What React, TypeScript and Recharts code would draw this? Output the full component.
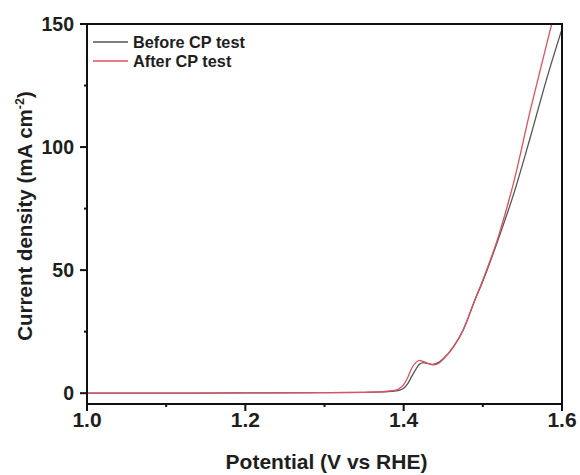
import React from 'react';
import { LineChart, Line, XAxis, YAxis, Legend } from 'recharts';

const beforePotential = [1.0, 1.1, 1.2, 1.3, 1.36, 1.38, 1.39, 1.395, 1.4, 1.405, 1.41, 1.415, 1.42, 1.425, 1.43, 1.437, 1.443, 1.45, 1.463, 1.475, 1.49, 1.5, 1.52, 1.54, 1.56, 1.58, 1.6];
const beforeCurrent = [0, 0, 0.1, 0.2, 0.4, 0.6, 0.9, 1.2, 2.0, 3.8, 6.7, 9.5, 11.8, 12.4, 12.1, 11.7, 12.3, 14.0, 18.9, 25.5, 37.9, 45.5, 63, 82, 104, 127, 148];

const afterPotential = [1.0, 1.1, 1.2, 1.3, 1.36, 1.38, 1.39, 1.395, 1.4, 1.406, 1.41, 1.415, 1.42, 1.425, 1.432, 1.438, 1.445, 1.45, 1.463, 1.475, 1.49, 1.5, 1.52, 1.54, 1.56, 1.58, 1.587];
const afterCurrent = [0, 0, 0.1, 0.2, 0.4, 0.8, 1.2, 2.0, 3.5, 7.0, 10.0, 12.3, 13.3, 12.8, 12.0, 11.5, 12.3, 13.8, 18.9, 25.7, 37.9, 46, 64, 87, 115, 141, 150];

const xTicks = [1.0, 1.1, 1.2, 1.3, 1.4, 1.5, 1.6];
const xMajor = [1.0, 1.2, 1.4, 1.6];
const yTicks = [0, 25, 50, 75, 100, 125, 150];
const yMajor = [0, 50, 100, 150];
const xDomain = [1.0, 1.6];
const yDomain = [-4.4, 150];

const seriesNames = ['Before CP test', 'After CP test'];
const seriesColors = ['#555555', '#e2505c'];

const beforeData = beforePotential.map((p, i) => ({ p, j: beforeCurrent[i] }));
const afterData = afterPotential.map((p, i) => ({ p, j: afterCurrent[i] }));

const CHART_W = 580;
const CHART_H = 475;
const MARGIN = { top: 24, right: 18, bottom: 11, left: 27 };
const Y_AXIS_W = 60;
const X_AXIS_H = 60;
const PLOT = {
  left: MARGIN.left + Y_AXIS_W,
  top: MARGIN.top,
  right: CHART_W - MARGIN.right,
  bottom: CHART_H - MARGIN.bottom - X_AXIS_H,
};

const FONT = '"Liberation Sans", Arial, sans-serif';
const TEXT = '#1e1e1e';
const AXIS = '#111';

const XTick = (props: any) => {
  const { x, y, payload } = props;
  const v = payload.value;
  const major = xMajor.some((m) => Math.abs(m - v) < 1e-6);
  return (
    <g>
      <line x1={x} x2={x} y1={y} y2={y + (major ? 7 : 3)} stroke={AXIS} strokeWidth={2} />
      {major && (
        <text x={x} y={y + 23} textAnchor="middle" fontFamily={FONT} fontWeight="bold" fontSize={21} fill={TEXT}>
          {v.toFixed(1)}
        </text>
      )}
    </g>
  );
};

const YTick = (props: any) => {
  const { x, y, payload } = props;
  const v = payload.value;
  const major = yMajor.includes(v);
  return (
    <g>
      <line x1={x} x2={x - (major ? 7 : 3)} y1={y} y2={y} stroke={AXIS} strokeWidth={2} />
      {major && (
        <text x={x - 13} y={y + 7} textAnchor="end" fontFamily={FONT} fontWeight="bold" fontSize={19.5} fill={TEXT}>
          {v}
        </text>
      )}
    </g>
  );
};

// Legend overlay spans the whole chart so that it can also close the plot frame (top and right edges).
const renderLegend = () => (
  <svg width={CHART_W} height={CHART_H} style={{ display: 'block' }}>
    <polyline
      points={`${PLOT.left - 1},${PLOT.top} ${PLOT.right},${PLOT.top} ${PLOT.right},${PLOT.bottom + 1}`}
      fill="none"
      stroke={AXIS}
      strokeWidth={2}
    />
    {seriesNames.map((n, i) => (
      <g key={n}>
        <line x1={93} x2={128} y1={42 + i * 19} y2={42 + i * 19} stroke={seriesColors[i]} strokeWidth={1.5} />
        <text x={133} y={48 + i * 19} fontFamily={FONT} fontWeight="bold" fontSize={16.3} fill={TEXT}>
          {n}
        </text>
      </g>
    ))}
  </svg>
);

const YLabel = (props: any) => {
  const vb = props.viewBox || {};
  const cx = 32;
  const cy = (vb.y ?? 24) + (vb.height ?? 380) / 2 + 2;
  return (
    <text transform={`translate(${cx},${cy}) rotate(-90)`} textAnchor="middle" fontFamily={FONT} fontWeight="bold" fontSize={20.5} fill={TEXT}>
      Current density (mA cm
      <tspan fontSize={12.5} dy={-8}>-2</tspan>
      <tspan dy={8}>)</tspan>
    </text>
  );
};

const XLabel = (props: any) => {
  const vb = props.viewBox || {};
  const cx = (vb.x ?? 87) + (vb.width ?? 475) / 2 + 2;
  return (
    <text x={cx} y={469} textAnchor="middle" fontFamily={FONT} fontWeight="bold" fontSize={21} fill={TEXT}>
      Potential (V vs RHE)
    </text>
  );
};

export default function App() {
  return (
    <div style={{ position: 'absolute', left: 0, top: 0, width: CHART_W, height: CHART_H, background: '#fff' }}>
      <LineChart width={CHART_W} height={CHART_H} margin={MARGIN}>
        <XAxis
          xAxisId={0}
          dataKey="p"
          type="number"
          domain={xDomain}
          ticks={xTicks}
          allowDataOverflow
          height={X_AXIS_H}
          tickSize={0}
          tickMargin={0}
          tickLine={false}
          axisLine={{ stroke: AXIS, strokeWidth: 2 }}
          tick={<XTick />}
          interval={0}
          label={<XLabel />}
        />
        <YAxis
          yAxisId={0}
          type="number"
          domain={yDomain}
          ticks={yTicks}
          allowDataOverflow
          width={Y_AXIS_W}
          tickSize={0}
          tickMargin={0}
          tickLine={false}
          axisLine={{ stroke: AXIS, strokeWidth: 2 }}
          tick={<YTick />}
          interval={0}
          label={<YLabel />}
        />
        <Legend
          layout="vertical"
          align="center"
          verticalAlign="middle"
          content={renderLegend}
          wrapperStyle={{ left: 0, top: 0, width: CHART_W, height: CHART_H, pointerEvents: 'none' }}
        />
        <Line data={beforeData} dataKey="j" name={seriesNames[0]} type="monotone" stroke={seriesColors[0]} strokeWidth={1.3} dot={false} isAnimationActive={false} xAxisId={0} yAxisId={0} />
        <Line data={afterData} dataKey="j" name={seriesNames[1]} type="monotone" stroke={seriesColors[1]} strokeWidth={1.3} dot={false} isAnimationActive={false} xAxisId={0} yAxisId={0} />
      </LineChart>
    </div>
  );
}
